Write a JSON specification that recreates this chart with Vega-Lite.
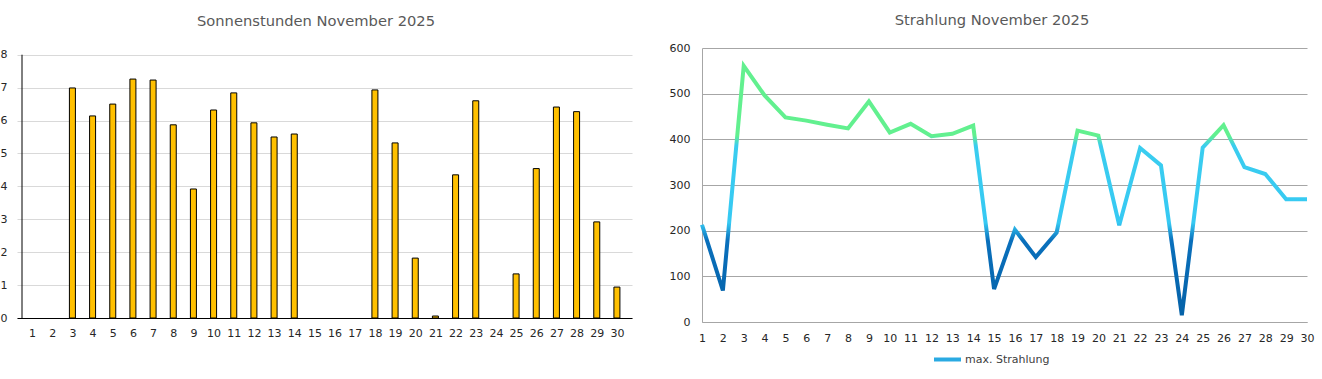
{
  "$schema": "https://vega.github.io/schema/vega-lite/v6.json",
  "background": "white",
  "padding": {"left": 0, "top": 13, "right": 8, "bottom": 5},
  "spacing": 37,
  "resolve": {"scale": {"color": "independent"}, "legend": {"color": "independent"}},
  "data": {"values": [
    {"tag": 1, "sonne": 0, "strahlung": 213},
    {"tag": 2, "sonne": 0, "strahlung": 69},
    {"tag": 3, "sonne": 6.99, "strahlung": 561},
    {"tag": 4, "sonne": 6.14, "strahlung": 496},
    {"tag": 5, "sonne": 6.5, "strahlung": 448},
    {"tag": 6, "sonne": 7.26, "strahlung": 441},
    {"tag": 7, "sonne": 7.23, "strahlung": 432},
    {"tag": 8, "sonne": 5.87, "strahlung": 424},
    {"tag": 9, "sonne": 3.92, "strahlung": 483},
    {"tag": 10, "sonne": 6.32, "strahlung": 415},
    {"tag": 11, "sonne": 6.84, "strahlung": 434},
    {"tag": 12, "sonne": 5.93, "strahlung": 407},
    {"tag": 13, "sonne": 5.5, "strahlung": 412},
    {"tag": 14, "sonne": 5.59, "strahlung": 430},
    {"tag": 15, "sonne": 0, "strahlung": 72},
    {"tag": 16, "sonne": 0, "strahlung": 202},
    {"tag": 17, "sonne": 0, "strahlung": 142},
    {"tag": 18, "sonne": 6.93, "strahlung": 196},
    {"tag": 19, "sonne": 5.32, "strahlung": 419},
    {"tag": 20, "sonne": 1.82, "strahlung": 408},
    {"tag": 21, "sonne": 0.06, "strahlung": 212},
    {"tag": 22, "sonne": 4.35, "strahlung": 381},
    {"tag": 23, "sonne": 6.6, "strahlung": 343},
    {"tag": 24, "sonne": 0, "strahlung": 15},
    {"tag": 25, "sonne": 1.34, "strahlung": 382},
    {"tag": 26, "sonne": 4.54, "strahlung": 431},
    {"tag": 27, "sonne": 6.41, "strahlung": 339},
    {"tag": 28, "sonne": 6.27, "strahlung": 324},
    {"tag": 29, "sonne": 2.92, "strahlung": 269},
    {"tag": 30, "sonne": 0.94, "strahlung": 269}
  ]},
  "config": {
    "font": "DejaVu Sans",
    "view": {"stroke": null},
    "title": {"fontSize": 14.7, "fontWeight": "normal", "color": "#595959", "anchor": "middle", "frame": "bounds"},
    "axis": {"labelFont": "DejaVu Sans", "labelFontSize": 11, "labelColor": "#262626", "ticks": false, "title": null, "labelOverlap": false, "labelFlush": false}
  },
  "hconcat": [
    {
      "width": 615,
      "height": 270,
      "title": {"text": "Sonnenstunden November 2025", "offset": 19},
      "layer": [
        {
          "transform": [{"filter": "datum.sonne > 0"}],
          "mark": {"type": "bar", "width": 6, "color": "#FFC000", "stroke": "#000000", "strokeWidth": 1},
          "encoding": {
            "x": {"field": "tag", "type": "quantitative",
                  "scale": {"domain": [0.5, 30.5], "nice": false, "zero": false},
                  "axis": {"values": [1,2,3,4,5,6,7,8,9,10,11,12,13,14,15,16,17,18,19,20,21,22,23,24,25,26,27,28,29,30], "tickCount": 40, "format": "d", "grid": false, "domainColor": "#000000", "labelPadding": 9}},
            "y": {"field": "sonne", "type": "quantitative",
                  "scale": {"domain": [0, 8.204], "nice": false},
                  "axis": {"values": [0,1,2,3,4,5,6,7,8], "tickCount": 20, "format": "d", "gridColor": "#D9D9D9", "domain": false, "labelPadding": 10}}
          }
        },
        {
          "data": {"values": [{"x0": 0.5, "ya": 0, "yb": 8}]},
          "mark": {"type": "rule", "color": "#000000", "strokeWidth": 1},
          "encoding": {
            "x": {"field": "x0", "type": "quantitative"},
            "y": {"field": "ya", "type": "quantitative"},
            "y2": {"field": "yb"}
          }
        }
      ]
    },
    {
      "width": 605,
      "height": 274,
      "title": {"text": "Strahlung November 2025", "offset": 14},
      "layer": [
        {
          "mark": {"type": "line", "strokeWidth": 4,
                   "color": {"gradient": "linear", "x1": 0, "y1": 1, "x2": 0, "y2": 0,
                             "stops": [
                               {"offset": 0, "color": "#0562A8"},
                               {"offset": 0.3, "color": "#0A70BC"},
                               {"offset": 0.37, "color": "#36C9F3"},
                               {"offset": 0.68, "color": "#3ACDEF"},
                               {"offset": 0.72, "color": "#62F08F"},
                               {"offset": 1, "color": "#62F08F"}
                             ]}},
          "encoding": {
            "x": {"field": "tag", "type": "quantitative",
                  "scale": {"domain": [1, 30], "nice": false, "zero": false},
                  "axis": {"values": [1,2,3,4,5,6,7,8,9,10,11,12,13,14,15,16,17,18,19,20,21,22,23,24,25,26,27,28,29,30], "tickCount": 40, "format": "d", "grid": false, "domainColor": "#A6A6A6", "labelPadding": 10}},
            "y": {"field": "strahlung", "type": "quantitative",
                  "scale": {"domain": [0, 600], "nice": false},
                  "axis": {"values": [0,100,200,300,400,500,600], "tickCount": 20, "gridColor": "#A6A6A6", "domainColor": "#A6A6A6", "labelPadding": 12}}
          }
        },
        {
          "mark": {"type": "line", "opacity": 0},
          "encoding": {
            "x": {"field": "tag", "type": "quantitative"},
            "y": {"field": "strahlung", "type": "quantitative"},
            "color": {"datum": "max. Strahlung", "type": "nominal",
                      "scale": {"range": ["#2AAAE2"]},
                      "legend": {"title": null, "orient": "none", "legendX": 230, "legendY": 296, "direction": "horizontal", "symbolType": "stroke", "symbolOpacity": 1, "symbolStrokeWidth": 4, "symbolSize": 729, "labelFontSize": 11, "labelColor": "#404040", "labelOffset": 2}}
          }
        }
      ]
    }
  ]
}
